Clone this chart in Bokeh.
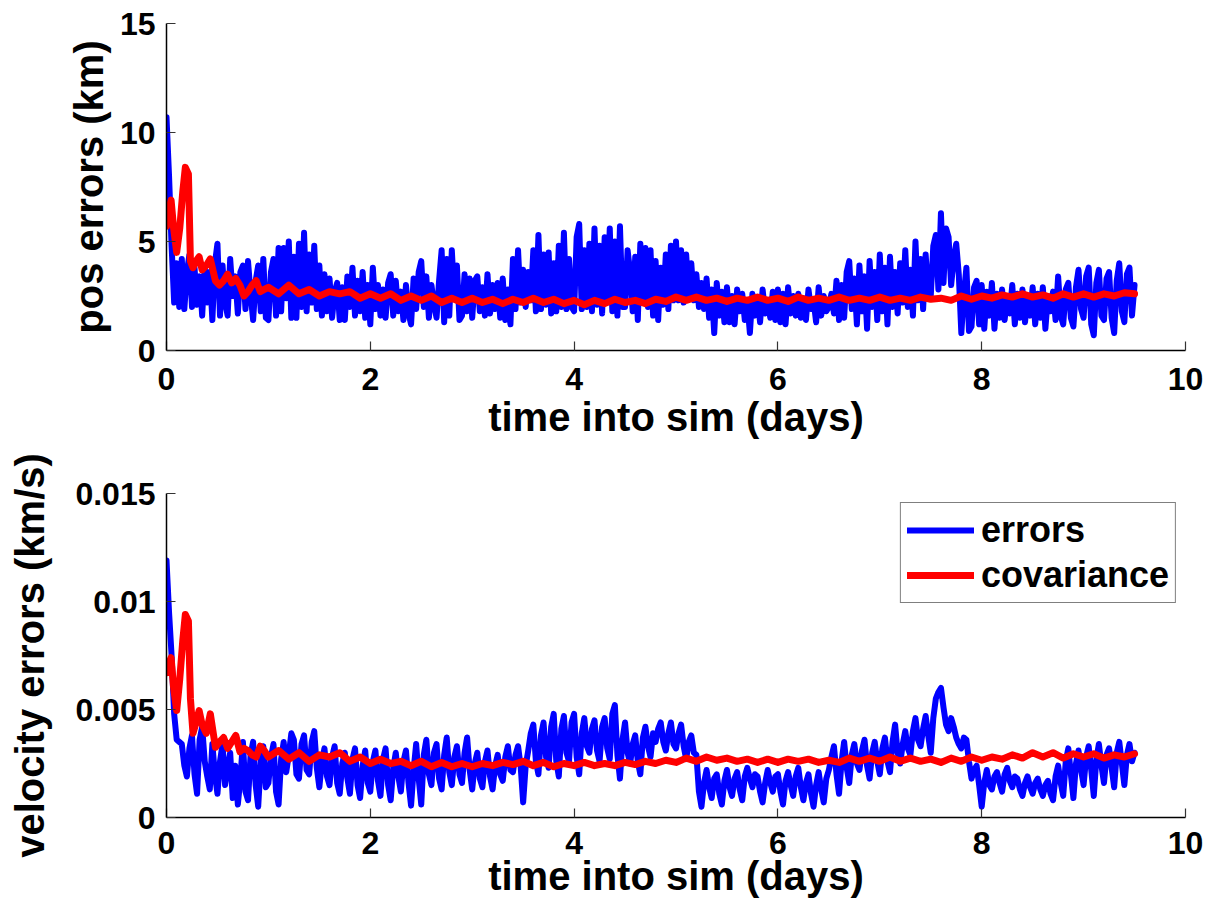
from bokeh.plotting import figure
from bokeh.layouts import column
from bokeh.models import Range1d, FixedTicker, Legend, LegendItem
from bokeh.embed import file_html
from bokeh.resources import INLINE

# ---------------- data ----------------
# error samples every 0.025 day, 0 .. 9.5
t_err = [round(0.025 * i, 3) for i in range(381)]

pos_err = [
    10.7, 8.0, 4.8, 2.2, 4.0, 2.0, 4.2, 1.9, 3.6, 4.4, 2.0, 3.8, 2.1, 3.4, 1.6, 3.8, 2.2, 3.6, 1.4, 4.0,
    4.9, 1.6, 3.9, 2.2, 1.6, 4.2, 2.5, 3.4, 1.7, 3.6, 3.9, 1.9, 4.1, 2.6, 1.4, 3.2, 3.9, 1.8, 4.2, 1.5,
    1.4, 3.6, 4.2, 1.6, 4.7, 1.8, 4.7, 2.4, 5.0, 1.5, 4.3, 1.5, 4.9, 2.0, 5.4, 1.8, 4.4, 2.2, 4.8, 1.9,
    3.9, 1.6, 3.5, 1.8, 3.3, 1.5, 2.7, 3.1, 1.4, 2.9, 1.4, 3.4, 2.0, 3.8, 1.6, 3.2, 1.8, 3.6, 1.5, 3.0,
    1.2, 3.8, 1.9, 3.0, 1.6, 2.8, 1.5, 3.1, 3.5, 1.6, 3.2, 1.8, 2.7, 1.4, 3.0, 1.7, 1.2, 3.3, 1.9, 3.6,
    4.1, 2.0, 3.4, 1.5, 3.0, 2.1, 1.5, 3.2, 4.6, 1.3, 4.2, 1.6, 4.6, 2.4, 3.9, 1.4, 1.6, 3.5, 1.8, 3.3,
    1.5, 3.2, 3.4, 1.8, 2.9, 1.6, 3.5, 1.7, 3.0, 1.9, 3.1, 1.5, 3.3, 1.4, 2.8, 1.2, 4.2, 1.9, 4.6, 2.2,
    3.7, 2.0, 3.6, 2.3, 4.6, 1.8, 5.3, 1.9, 4.4, 2.1, 4.5, 1.7, 4.0, 1.8, 4.8, 2.0, 5.4, 1.9, 4.2, 2.0,
    1.8, 5.2, 5.8, 1.9, 4.6, 2.0, 4.9, 1.8, 5.6, 2.1, 4.8, 1.7, 5.2, 2.4, 5.6, 1.8, 5.0, 1.6, 5.7, 2.0,
    2.0, 4.6, 3.6, 1.8, 4.3, 1.4, 4.9, 2.2, 4.7, 2.0, 4.6, 1.6, 4.1, 1.4, 3.8, 2.1, 4.4, 1.9, 4.8, 2.3,
    5.0, 2.3, 4.6, 2.2, 4.4, 2.4, 4.0, 2.3, 3.5, 2.0, 3.1, 1.9, 3.3, 1.5, 2.8, 0.8, 3.1, 1.6, 2.7, 1.3,
    2.9, 1.3, 2.5, 1.2, 2.8, 1.8, 2.6, 1.4, 2.2, 0.8, 2.6, 1.6, 2.4, 1.3, 2.8, 1.7, 2.3, 1.5, 2.7, 1.4,
    2.8, 1.3, 2.6, 1.2, 2.9, 1.7, 2.5, 1.6, 2.6, 1.5, 2.4, 1.4, 2.8, 1.9, 2.3, 1.3, 2.9, 1.6, 2.5, 1.8,
    2.0, 2.6, 1.7, 3.2, 1.4, 3.0, 1.5, 3.6, 4.1, 1.9, 3.3, 1.2, 3.9, 1.8, 3.4, 1.0, 4.1, 2.0, 3.6, 1.4,
    4.4, 1.8, 3.8, 1.2, 4.3, 2.0, 3.6, 1.7, 4.0, 2.2, 4.6, 2.0, 3.7, 1.6, 5.0, 2.3, 4.2, 1.9, 4.4, 2.6,
    2.5, 4.8, 5.3, 2.8, 6.3, 3.1, 5.6, 5.2, 3.0, 4.2, 4.9, 3.5, 0.8, 2.6, 3.8, 0.9, 1.1, 2.9, 3.2, 1.2,
    3.0, 1.0, 2.7, 1.6, 3.1, 1.0, 2.6, 1.5, 2.8, 1.4, 2.5, 1.7, 3.0, 1.2, 2.6, 1.5, 2.8, 1.3, 2.5, 1.6,
    2.9, 1.2, 2.6, 1.5, 2.9, 1.0, 2.5, 1.8, 2.7, 1.4, 3.4, 1.6, 1.2, 2.8, 3.1, 1.5, 1.1, 2.9, 3.7, 1.9,
    1.5, 3.4, 3.8, 1.2, 0.7, 3.1, 3.7, 1.6, 1.4, 3.3, 3.6, 1.5, 0.8, 3.2, 4.0, 1.8, 1.3, 3.5, 3.8, 1.6,
    3.0,
]

# velocity errors, in units of 1e-3 km/s
vel_err_milli = [
    11.9, 9.5, 7.5, 4.8, 3.6, 3.5, 3.4, 2.4, 1.9, 3.2, 3.8, 2.0, 1.1, 3.6, 4.2, 2.6, 1.9, 1.3, 3.4, 2.0,
    1.1, 2.6, 3.4, 1.5, 2.3, 3.0, 0.9, 2.4, 0.6, 1.8, 3.5, 1.2, 0.8, 2.9, 3.5, 1.5, 0.5, 2.6, 3.3, 1.4,
    1.6, 2.8, 3.4, 1.2, 0.6, 2.7, 3.5, 2.1, 2.9, 3.9, 3.6, 2.0, 1.8, 3.4, 3.8, 2.2, 2.0, 3.5, 4.0, 2.3,
    1.4, 2.6, 3.2, 1.9, 1.5, 2.8, 3.3, 1.6, 1.1, 2.5, 3.0, 1.8, 1.1, 2.7, 3.2, 1.5, 0.9, 2.4, 3.1, 1.6,
    1.2, 2.6, 3.1, 1.7, 1.0, 2.7, 3.2, 1.5, 0.8, 2.3, 3.0, 1.9, 1.2, 2.6, 3.1, 1.6, 0.55, 2.2, 3.4, 1.8,
    0.6, 2.9, 3.6, 2.0, 1.5, 3.0, 3.4, 1.8, 1.3, 2.9, 3.7, 2.1, 1.5, 2.8, 3.3, 2.0, 1.6, 3.0, 3.7, 2.2,
    1.3, 2.5, 3.0, 1.8, 1.4, 2.6, 3.1, 1.9, 1.3, 2.4, 2.9, 2.0, 1.7, 2.8, 3.3, 2.2, 2.1, 2.9, 3.3, 2.4,
    0.7, 2.4, 3.1, 3.9, 4.3, 2.6, 2.0, 3.8, 4.4, 2.8, 2.3, 4.2, 4.8, 2.6, 1.9, 4.1, 4.7, 3.0, 2.6, 4.4,
    4.8, 2.8, 2.0, 3.9, 4.6, 3.3, 3.0, 4.1, 4.5, 3.1, 2.6, 4.2, 4.6, 3.2, 2.7, 4.8, 5.2, 2.9, 1.8, 3.6,
    4.4, 3.0, 2.5, 3.4, 3.8, 2.6, 2.0, 3.7, 4.2, 3.3, 2.8, 3.9, 3.5, 4.1, 4.4, 3.5, 3.1, 3.9, 4.4, 3.4,
    3.2, 3.9, 4.3, 3.3, 2.7, 3.5, 3.8, 3.0, 2.9, 1.2, 0.5, 1.6, 2.2, 1.4, 0.9, 1.8, 2.0, 1.1, 0.6, 1.7,
    2.2, 1.4, 1.0, 1.8, 2.1, 1.3, 0.8, 1.9, 2.3, 1.8, 1.4, 2.0, 1.9, 1.2, 0.7, 1.6, 2.2, 1.6, 1.2, 1.9,
    2.0, 1.2, 0.6, 1.7, 2.1, 1.5, 1.0, 1.9, 2.3, 1.4, 0.8, 1.6, 2.0, 1.1, 0.5, 1.5, 2.1, 1.3, 0.7, 1.8,
    2.2, 2.8, 3.3, 2.0, 1.1, 2.6, 3.5, 2.3, 1.6, 2.9, 3.4, 2.5, 2.2, 3.1, 3.6, 2.4, 1.8, 3.0, 3.5, 2.6,
    2.0, 3.2, 3.7, 2.6, 2.1, 3.5, 4.3, 3.0, 2.5, 3.4, 4.0, 3.2, 2.9, 4.0, 4.6, 3.6, 3.3, 4.1, 4.7, 3.8,
    3.0, 4.6, 5.5, 5.8, 6.0, 5.1, 4.3, 4.0, 4.6, 4.2, 3.7, 3.4, 3.2, 3.7, 3.6, 2.6, 1.8, 2.2, 2.4, 1.5,
    0.5, 1.6, 2.2, 1.5, 1.3, 1.9, 2.1, 1.6, 1.2, 2.0, 2.3, 1.7, 1.4, 1.9, 1.8, 1.3, 1.0, 1.6, 1.9, 1.4,
    1.1, 1.6, 1.8, 1.3, 1.0, 1.5, 1.7, 1.1, 0.8, 1.9, 2.4, 1.6, 1.0, 2.6, 3.2, 2.0, 0.9, 2.5, 3.1, 2.2,
    1.5, 2.8, 3.3, 2.2, 1.0, 2.7, 3.4, 2.4, 1.6, 2.9, 3.2, 2.3, 1.4, 3.0, 3.5, 2.5, 1.5, 2.9, 3.4, 2.6,
    3.0,
]

# covariance samples: fine at the start, then every 0.1 day
t_cov_early = [0.0, 0.02, 0.045, 0.07, 0.10, 0.13, 0.16, 0.185, 0.215, 0.235,
               0.26, 0.29, 0.32, 0.35, 0.39, 0.43, 0.48, 0.52, 0.56, 0.60,
               0.64, 0.68, 0.72, 0.76, 0.80, 0.84, 0.88, 0.92, 0.96]
t_cov = t_cov_early + [round(1.0 + 0.1 * i, 2) for i in range(86)]

pos_cov = [
    5.7, 6.4, 6.9, 5.6, 4.5, 5.6, 7.3, 8.4, 8.1, 4.1,
    3.8, 4.1, 4.3, 3.7, 3.9, 4.2, 3.2, 3.0, 3.2, 3.5,
    3.1, 3.3, 3.0, 2.5, 2.7, 3.0, 3.2, 2.7, 2.8,
    2.9, 2.6, 3.0, 2.6, 2.8, 2.5, 2.7, 2.6, 2.7, 2.4,
    2.6, 2.4, 2.6, 2.3, 2.5, 2.3, 2.5, 2.2, 2.4, 2.2,
    2.4, 2.2, 2.35, 2.15, 2.35, 2.2, 2.4, 2.2, 2.35, 2.15,
    2.3, 2.1, 2.3, 2.15, 2.35, 2.2, 2.3, 2.15, 2.35, 2.25,
    2.45, 2.3, 2.45, 2.3, 2.4, 2.25, 2.4, 2.3, 2.45, 2.3,
    2.4, 2.25, 2.45, 2.3, 2.4, 2.3, 2.45, 2.3, 2.4, 2.3,
    2.45, 2.3, 2.4, 2.3, 2.45, 2.35, 2.4, 2.3, 2.5, 2.35,
    2.5, 2.4, 2.55, 2.45, 2.6, 2.45, 2.55, 2.4, 2.6, 2.45,
    2.6, 2.45, 2.6, 2.5, 2.65, 2.6,
]

vel_cov_milli = [
    6.7, 7.1, 7.4, 6.0, 4.95, 6.4, 8.2, 9.4, 9.1, 5.5,
    3.9, 4.4, 4.95, 4.3, 3.9, 4.8, 3.25, 3.5, 3.7, 3.2,
    3.5, 3.8, 3.05, 3.2, 3.1, 2.9, 2.8, 3.3, 3.1,
    2.8, 3.1, 2.7, 3.0, 2.6, 2.9, 2.8, 3.0, 2.6, 2.8,
    2.5, 2.7, 2.5, 2.6, 2.4, 2.6, 2.35, 2.55, 2.35, 2.5,
    2.35, 2.5, 2.4, 2.55, 2.45, 2.6, 2.4, 2.55, 2.35, 2.5,
    2.4, 2.55, 2.4, 2.5, 2.4, 2.55, 2.45, 2.6, 2.5, 2.65,
    2.55, 2.75, 2.6, 2.8, 2.65, 2.75, 2.6, 2.7, 2.55, 2.7,
    2.55, 2.7, 2.6, 2.7, 2.55, 2.65, 2.55, 2.75, 2.6, 2.75,
    2.6, 2.8, 2.6, 2.75, 2.6, 2.7, 2.55, 2.75, 2.6, 2.8,
    2.65, 2.8, 2.7, 2.9, 2.75, 3.0, 2.8, 3.0, 2.75, 2.95,
    2.8, 2.95, 2.75, 2.9, 2.8, 2.95,
]

vel_err = [v * 1e-3 for v in vel_err_milli]
vel_cov = [v * 1e-3 for v in vel_cov_milli]

x_ticks = [0, 2, 4, 6, 8, 10]
pos_ticks = [0, 5, 10, 15]
vel_ticks = [0, 0.005, 0.01, 0.015]
vel_tick_labels = {0: "0", 0.005: "0.005", 0.01: "0.01", 0.015: "0.015"}

FONT = "Liberation Sans"
BLUE = "#0000FF"
RED = "#FF0000"
LW_ERR = 6
LW_COV = 7


def style_axes(p, ylabel, ylabel_standoff, xtick_standoff, xlabel_standoff):
    p.outline_line_color = None
    p.xgrid.grid_line_color = None
    p.ygrid.grid_line_color = None
    p.background_fill_color = "white"
    p.border_fill_color = "white"
    for ax in (p.xaxis[0], p.yaxis[0]):
        ax.axis_line_color = "black"
        ax.axis_line_width = 1.5
        ax.major_tick_in = 9
        ax.major_tick_out = 0
        ax.major_tick_line_color = "#333333"
        ax.major_tick_line_width = 1.2
        ax.minor_tick_line_color = None
        ax.major_label_text_font = FONT
        ax.major_label_text_font_style = "bold"
        ax.major_label_text_font_size = "32px"
        ax.major_label_text_color = "black"
        ax.axis_label_text_font = FONT
        ax.axis_label_text_font_style = "bold"
        ax.axis_label_text_font_size = "40px"
        ax.axis_label_text_color = "black"
    p.xaxis[0].ticker = FixedTicker(ticks=x_ticks)
    p.xaxis[0].axis_label = "time into sim (days)"
    p.xaxis[0].major_label_standoff = xtick_standoff
    p.xaxis[0].axis_label_standoff = xlabel_standoff
    p.yaxis[0].axis_label = ylabel
    p.yaxis[0].major_label_standoff = 11
    p.yaxis[0].axis_label_standoff = ylabel_standoff


# ---------------- top: position ----------------
p1 = figure(width=1222, height=447, output_backend="svg", toolbar_location=None,
            x_range=Range1d(0, 10), y_range=Range1d(0, 15),
            min_border_left=166, min_border_right=37,
            min_border_top=23, min_border_bottom=97)
style_axes(p1, "pos errors (km)", 6, 17, 2)
p1.yaxis[0].ticker = FixedTicker(ticks=pos_ticks)
p1.line(t_err, pos_err, line_color=BLUE, line_width=LW_ERR,
        line_join="round", line_cap="round")
p1.line(t_cov, pos_cov, line_color=RED, line_width=LW_COV,
        line_join="round", line_cap="round")

# ---------------- bottom: velocity ----------------
p2 = figure(width=1222, height=457, output_backend="svg", toolbar_location=None,
            x_range=Range1d(0, 10), y_range=Range1d(0, 0.015),
            min_border_left=166, min_border_right=37,
            min_border_top=46, min_border_bottom=87)
style_axes(p2, "velocity errors (km/s)", 20, 14, -3)
p2.yaxis[0].ticker = FixedTicker(ticks=vel_ticks)
p2.yaxis[0].major_label_overrides = vel_tick_labels
r_err = p2.line(t_err, vel_err, line_color=BLUE, line_width=LW_ERR,
                line_join="round", line_cap="round")
r_cov = p2.line(t_cov, vel_cov, line_color=RED, line_width=LW_COV,
                line_join="round", line_cap="round")

legend = Legend(items=[LegendItem(label="errors", renderers=[r_err]),
                       LegendItem(label="covariance", renderers=[r_cov])],
                location="top_right")
legend.label_text_font = FONT
legend.label_text_font_style = "bold"
legend.label_text_font_size = "36px"
legend.label_text_color = "black"
legend.glyph_width = 67
legend.glyph_height = 38
legend.label_height = 38
legend.label_standoff = 7
legend.spacing = 3
legend.padding = 6
legend.margin = 9
legend.border_line_color = "black"
legend.border_line_width = 1.5
legend.background_fill_color = "white"
legend.background_fill_alpha = 1.0
p2.add_layout(legend)

layout = column(p1, p2)

open("out.html", "w").write(file_html(layout, INLINE))
